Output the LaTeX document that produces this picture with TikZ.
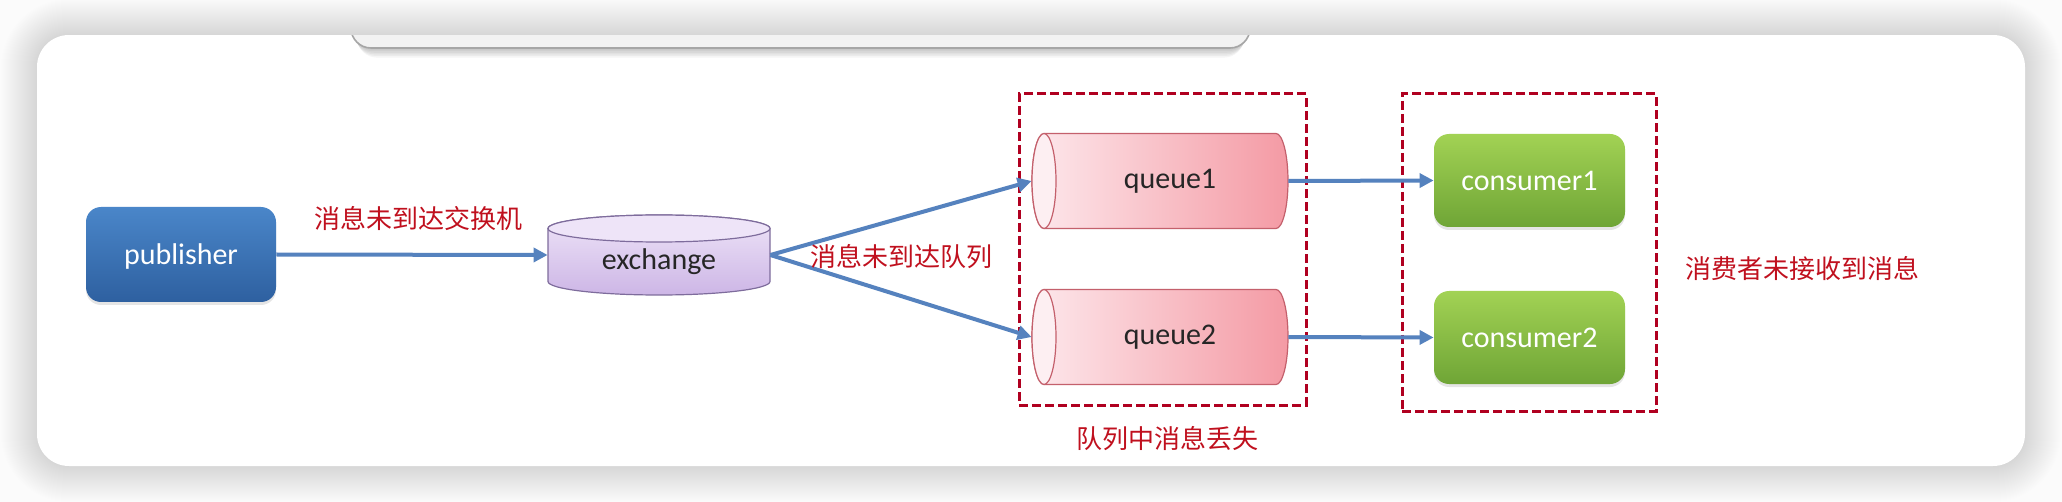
\documentclass[tikz,border=0pt]{standalone}
\usepackage{fontspec}
\setmainfont{Carlito}
\newfontfamily\cjk{Noto Sans CJK SC}
\usetikzlibrary{arrows.meta,shadows}
\definecolor{bgray}{HTML}{FBFBFB}
\definecolor{arrowblue}{HTML}{5582BE}
\definecolor{dashred}{HTML}{B00020}
\definecolor{txtred}{HTML}{C0101E}
\definecolor{pubtop}{HTML}{4A86C9}
\definecolor{pubbot}{HTML}{2E60A0}
\definecolor{contop}{HTML}{A2D254}
\definecolor{conbot}{HTML}{6FA536}
\definecolor{qleft}{HTML}{FDE8EC}
\definecolor{qright}{HTML}{F49AA4}
\definecolor{qface}{HTML}{FDEFF2}
\definecolor{qborder}{HTML}{C4606C}
\definecolor{extop}{HTML}{EEE4F8}
\definecolor{exbot}{HTML}{CDB6E6}
\definecolor{exborder}{HTML}{7E6C9C}
\tikzset{
  eng/.style={font=\fontsize{15pt}{18pt}\selectfont},
  cn/.style={font=\cjk\fontsize{13pt}{16pt}\selectfont, text=txtred, inner sep=0pt},
  pubbox/.style={eng, rounded corners=7.5pt, minimum width=95pt, minimum height=47.5pt,
     top color=pubtop, bottom color=pubbot, text=white, inner sep=0pt,
     drop shadow={opacity=0.2, shadow xshift=0pt, shadow yshift=-1.5pt}},
  conbox/.style={eng, rounded corners=7.5pt, minimum width=95.5pt, minimum height=46.5pt,
     top color=contop, bottom color=conbot, text=white, inner sep=0pt,
     drop shadow={opacity=0.2, shadow xshift=0pt, shadow yshift=-1.5pt}},
  qnode/.style={eng, minimum width=128pt, minimum height=47.5pt, inner sep=0pt, text=black!85},
  exnode/.style={eng, minimum width=111pt, minimum height=40pt, inner sep=0pt, text=black!85},
  dashbox/.style={draw=dashred, line width=1.5pt, dash pattern=on 4.5pt off 2pt, inner sep=0pt},
  conn/.style={draw=arrowblue, line width=2pt, -{Triangle[length=7pt,width=7pt]}},
}
\begin{document}
\begin{tikzpicture}[x=0.5pt,y=-0.5pt]
\useasboundingbox (0,0) rectangle (2062,502);
% background
\fill[bgray] (0,0) rectangle (2062,502);
% soft panel shadow
\foreach \i [evaluate=\i as \r using 16+0.5*\i] in {1,...,36}
  \fill[black,opacity=0.0042,rounded corners=\r pt] (37-\i,35-\i) rectangle (2025+\i,466+\i);
% panel
\fill[white,rounded corners=16pt] (37,35) rectangle (2025,466);
% dialog with shadow
\foreach \i in {1,...,6}
  \fill[black,opacity=0.04,rounded corners=10pt] (351+\i*1,-20) rectangle (1250-\i*1,48+\i*1.6);
\filldraw[fill=black!5,draw=black!35,line width=0.8pt,rounded corners=10pt] (351,-20) rectangle (1250,48);
% shadow band above the panel, covering the dialog top
\begin{scope}
  \clip (0,0) rectangle (2062,35);
  \fill[bgray] (0,0) rectangle (2062,35);
  \foreach \i [evaluate=\i as \r using 16+0.5*\i] in {1,...,36}
    \fill[black,opacity=0.0042,rounded corners=\r pt] (37-\i,35-\i) rectangle (2025+\i,466+\i);
\end{scope}

% exchange cylinder
\shade[top color=extop,bottom color=exbot,draw=exborder,line width=0.6pt]
  (548,228.5) -- (548,281.5) arc[start angle=180,end angle=360,x radius=55.5pt,y radius=6.75pt]
  -- (770,228.5) arc[start angle=0,end angle=180,x radius=55.5pt,y radius=6.75pt] -- cycle;
\filldraw[fill=extop,draw=exborder,line width=0.6pt] (659,228.5) ellipse[x radius=55.5pt,y radius=6.75pt];

% queue cylinders
\foreach \cy in {181,337}{
  \shade[left color=qleft,right color=qright,draw=qborder,line width=0.6pt]
    (1044,\cy-47.5) -- (1276,\cy-47.5) arc[start angle=90,end angle=-90,x radius=6pt,y radius=23.75pt]
    -- (1044,\cy+47.5) arc[start angle=270,end angle=90,x radius=6pt,y radius=23.75pt] -- cycle;
  \filldraw[fill=qface,draw=qborder,line width=0.6pt] (1044,\cy) ellipse[x radius=6pt,y radius=23.75pt];
}

% nodes
\node[pubbox] (pub) at (181,254.5) {\raisebox{-5pt}[0pt][0pt]{publisher}};
\node[exnode] (ex) at (659,255) {\raisebox{-7.5pt}[0pt][0pt]{exchange}};
\node[qnode] (q1) at (1160,181) {\hspace{10pt}queue1};
\node[qnode] (q2) at (1160,337) {\hspace{10pt}queue2};
\node[conbox] (c1) at (1529.5,180.5) {consumer1};
\node[conbox] (c2) at (1529.5,337.5) {consumer2};

% dashed groups
\node[dashbox, minimum width=143.5pt, minimum height=155.5pt] (g1) at (1162.5,249.5) {};
\node[dashbox, minimum width=127pt, minimum height=158.5pt] (g2) at (1529,252.5) {};

% connectors
\draw[conn] (pub.east) -- (ex.west);
\draw[conn] (ex.east) -- (q1.west);
\draw[conn] (ex.east) -- (q2.west);
\draw[conn] (q1.east) -- (c1.west);
\draw[conn] (q2.east) -- (c2.west);

% labels
\node[cn] (l1) at (418,219) {消息未到达交换机};
\node[cn] (l2) at (901,257) {消息未到达队列};
\node[cn] (l3) at (1167,439) {队列中消息丢失};
\node[cn] (l4) at (1802,269) {消费者未接收到消息};
\end{tikzpicture}
\end{document}
